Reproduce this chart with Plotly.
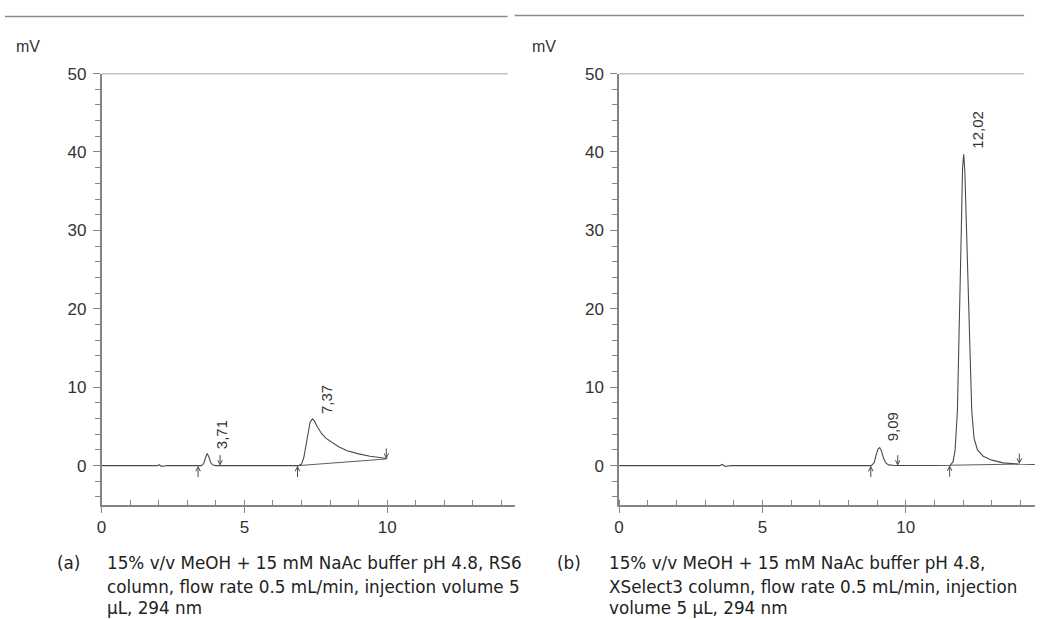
import plotly.graph_objects as go

W, H = 1055, 620

# ---------------- data ----------------
# (a) RS6 column trace
a_time = [0, 1.95, 2.02, 2.1, 2.2, 2.3, 3.5, 3.58, 3.64, 3.7, 3.76, 3.82, 3.9, 4.0,
          6.9, 7.0, 7.08, 7.15, 7.22, 7.3, 7.38, 7.45, 7.55, 7.7, 7.85, 8.0, 8.3, 8.6,
          9.0, 9.4, 9.8, 10.0]
a_mv = [0, 0, 0.12, -0.1, -0.05, 0, 0, 0.3, 1.0, 1.55, 1.1, 0.4, 0.08, 0,
        0, 0.2, 1.0, 2.5, 4.2, 5.5, 5.95, 5.7, 5.0, 4.1, 3.5, 3.1, 2.4, 1.9,
        1.5, 1.2, 1.0, 0.9]
a_base_t = [6.88, 9.98]
a_base_mv = [0, 0.85]
a_peak_rt = ["3,71", "7,37"]
a_label_t = [4.18, 7.87]
a_label_mv = [4.0, 8.4]
a_up_t = [3.38, 6.86]
a_up_mv = [0, 0]
a_down_t = [4.15, 9.97]
a_down_mv = [0, 0.85]

# (b) XSelect3 column trace
b_time = [0, 3.5, 3.6, 3.7, 3.8, 3.9, 8.8, 8.9, 8.97, 9.03, 9.09, 9.15, 9.22, 9.3, 9.4,
          9.6, 11.0, 11.55, 11.65, 11.72, 11.8, 11.87, 11.93, 11.98, 12.02, 12.06,
          12.11, 12.17, 12.23, 12.3, 12.38, 12.5, 12.7, 13.0, 13.4, 13.9, 14.5]
b_mv = [0, 0, 0.15, -0.1, -0.05, 0, 0, 0.4, 1.4, 2.1, 2.3, 1.9, 1.0, 0.35, 0.1,
        0.02, 0.02, 0.05, 0.5, 2, 7, 17, 29, 38, 39.7, 37.5,
        31, 23, 14, 7, 3.5, 2.0, 1.2, 0.7, 0.35, 0.2, 0.15]
b_base_t = [11.53, 13.96]
b_base_mv = [0.05, 0.2]
b_peak_rt = ["9,09", "12,02"]
b_label_t = [9.55, 12.5]
b_label_mv = [5.0, 42.9]
b_up_t = [8.78, 11.53]
b_up_mv = [0, 0.05]
b_down_t = [9.72, 13.96]
b_down_mv = [0, 0.2]

y_ticks = [0, 10, 20, 30, 40, 50]
x_ticks = [0, 5, 10]

captions_a = ["15% v/v MeOH + 15 mM NaAc buffer pH 4.8, RS6",
              "column, flow rate 0.5 mL/min, injection volume 5",
              "µL, 294 nm"]
captions_b = ["15% v/v MeOH + 15 mM NaAc buffer pH 4.8,",
              "XSelect3 column, flow rate 0.5 mL/min, injection",
              "volume 5 µL, 294 nm"]

# ---------------- styling ----------------
AX = "#858585"
TR = "#4a4a4a"
TXT = "#333333"
TICKFONT = dict(family="Liberation Sans, Arial", size=17, color=TXT)
LABFONT = dict(family="Liberation Sans, Arial", size=15, color=TXT)
CAPFONT = dict(family="DejaVu Sans", size=16.8, color="#222222")

# map a position measured on the target picture to paper coordinates
def px(x):
    return (x - 3) / W

def py(y):
    return 1 - ((y - 7.4) / 0.986) / H

ydom = [py(503.5), py(72)]
panels = [
    dict(xdom=[px(100), px(515)], xr=[0, 14.46], t=a_time, v=a_mv, bt=a_base_t, bv=a_base_mv,
         rt=a_peak_rt, lt=a_label_t, lv=a_label_mv, ut=a_up_t, uv=a_up_mv, dt=a_down_t, dv=a_down_mv,
         top_end=508, left=100),
    dict(xdom=[px(620), px(1038)], xr=[0, 14.51], t=b_time, v=b_mv, bt=b_base_t, bv=b_base_mv,
         rt=b_peak_rt, lt=b_label_t, lv=b_label_mv, ut=b_up_t, uv=b_up_mv, dt=b_down_t, dv=b_down_mv,
         top_end=1027, left=620),
]

fig = go.Figure()
annotations = []
shapes = []

for i, p in enumerate(panels):
    n = "" if i == 0 else str(i + 1)
    xa, ya = "x" + n, "y" + n
    fig.add_trace(go.Scatter(x=p["t"], y=p["v"], mode="lines", xaxis=xa, yaxis=ya,
                             line=dict(color=TR, width=1.1), showlegend=False, hoverinfo="skip"))
    fig.add_trace(go.Scatter(x=p["bt"], y=p["bv"], mode="lines", xaxis=xa, yaxis=ya,
                             line=dict(color=TR, width=0.9), showlegend=False, hoverinfo="skip"))
    xkey, ykey = "xaxis" + n, "yaxis" + n
    fig.update_layout(**{
        xkey: dict(domain=p["xdom"], range=p["xr"], anchor=ya, showgrid=False, zeroline=False,
                   showline=True, linecolor=AX, linewidth=1.5, ticks="outside", ticklen=6,
                   tickcolor=AX, tickwidth=1.3, tickvals=x_ticks, tickfont=TICKFONT,
                   minor=dict(dtick=1, tick0=0, ticks="inside", ticklen=5, tickcolor=AX, tickwidth=1.3)),
        ykey: dict(domain=ydom, range=[-5, 50], anchor=xa, showgrid=False, zeroline=False,
                   showline=True, linecolor=AX, linewidth=1.5, ticks="outside", ticklen=7,
                   tickcolor=AX, tickwidth=1.3, tickvals=y_ticks, tickfont=TICKFONT,
                   ticklabelstandoff=3,
                   minor=dict(dtick=2, tick0=0, ticks="outside", ticklen=5, tickcolor=AX, tickwidth=1.3)),
    })
    # top frame line at 50 mV
    shapes.append(dict(type="line", xref="paper", yref=ya, x0=px(p["left"]), x1=px(p["top_end"]),
                       y0=50, y1=50, line=dict(color=AX, width=1.5)))
    # peak labels
    for lab, lx, lv in zip(p["rt"], p["lt"], p["lv"]):
        annotations.append(dict(x=lx, y=lv, xref=xa, yref=ya, text=lab, textangle=-90,
                                showarrow=False, font=LABFONT, xanchor="center", yanchor="middle"))
    # integration markers
    for ut, uv in zip(p["ut"], p["uv"]):
        annotations.append(dict(x=ut, y=uv, xref=xa, yref=ya, text="", showarrow=True,
                                ax=0, ay=13, arrowhead=5, arrowsize=0.9, arrowwidth=1,
                                arrowcolor=TR, standoff=0))
    for dt, dv in zip(p["dt"], p["dv"]):
        annotations.append(dict(x=dt, y=dv, xref=xa, yref=ya, text="", showarrow=True,
                                ax=0, ay=-12, arrowhead=5, arrowsize=0.9, arrowwidth=1,
                                arrowcolor=TR, standoff=0))

# mV unit labels
for xpix in (26, 545):
    annotations.append(dict(x=px(xpix), y=py(45), xref="paper", yref="paper", text="mV",
                            showarrow=False, font=dict(family="Liberation Sans, Arial", size=16, color=TXT),
                            xanchor="center", yanchor="middle"))

# top separator lines
shapes.append(dict(type="line", xref="paper", yref="paper", x0=px(3), x1=px(508),
                   y0=py(15), y1=py(15), line=dict(color="#8a8a8a", width=1.5)))
shapes.append(dict(type="line", xref="paper", yref="paper", x0=px(515), x1=px(1027),
                   y0=py(14), y1=py(14), line=dict(color="#8a8a8a", width=1.5)))

# captions
line_y = [562, 586, 607]
for tag, lines, tagx, textx in (("(a)", captions_a, 55, 105), ("(b)", captions_b, 558, 610)):
    annotations.append(dict(x=px(tagx - 1), y=py(line_y[0]), xref="paper", yref="paper", text=tag,
                            showarrow=False, font=CAPFONT, xanchor="left", yanchor="middle", borderpad=0))
    for ln, ly in zip(lines, line_y):
        annotations.append(dict(x=px(textx - 1), y=py(ly), xref="paper", yref="paper", text=ln,
                                showarrow=False, font=CAPFONT, xanchor="left", yanchor="middle",
                                borderpad=0))

fig.update_layout(width=W, height=H, margin=dict(l=0, r=0, t=0, b=0),
                  paper_bgcolor="white", plot_bgcolor="white",
                  annotations=annotations, shapes=shapes, showlegend=False)

fig.write_html("out.html")
